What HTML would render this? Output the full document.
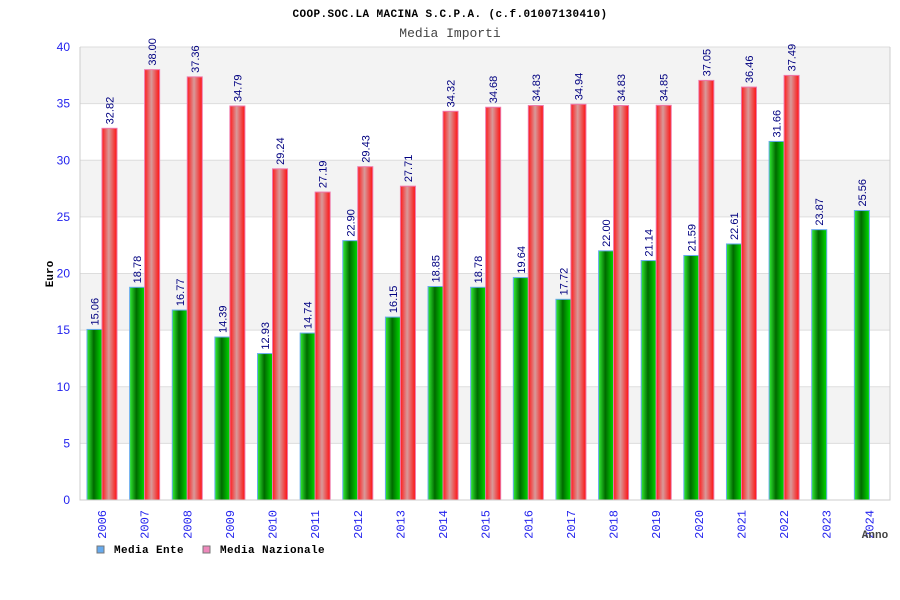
<!DOCTYPE html>
<html><head><meta charset="utf-8"><style>
body{margin:0;background:#fff;}
svg{display:block;}
</style></head><body>
<svg id="chart" width="900" height="600" xmlns="http://www.w3.org/2000/svg">
<defs>
<linearGradient id="gG" x1="0" x2="1" y1="0" y2="0">
<stop offset="0" stop-color="#33ee33"/><stop offset="0.45" stop-color="#006a00"/><stop offset="1" stop-color="#00dd00"/>
</linearGradient>
<linearGradient id="gR" x1="0" x2="1" y1="0" y2="0">
<stop offset="0" stop-color="#ff1a1a"/><stop offset="0.45" stop-color="#d89a9a"/><stop offset="1" stop-color="#ff1010"/>
</linearGradient>
</defs>
<text x="450" y="17" text-anchor="middle" font-family="Liberation Mono, monospace" font-weight="bold" font-size="11" letter-spacing="0.4" fill="#000">COOP.SOC.LA MACINA S.C.P.A. (c.f.01007130410)</text>
<text x="450" y="37" text-anchor="middle" font-family="Liberation Mono, monospace" font-size="13" fill="#444">Media Importi</text>
<g id="grid"></g>
<g id="bars"></g>
<g id="axes"></g>
<text x="0" y="0" transform="translate(53,274) rotate(-90)" text-anchor="middle" font-family="Liberation Mono, monospace" font-weight="bold" font-size="11" fill="#000">Euro</text>
<text x="875" y="538" text-anchor="middle" font-family="Liberation Mono, monospace" font-weight="bold" font-size="11" fill="#444">Anno</text>
<g>
<rect x="97" y="546" width="7" height="7" fill="#66aaee" stroke="#777"/>
<text x="114" y="553" font-family="Liberation Mono, monospace" font-weight="bold" font-size="11" letter-spacing="0.4">Media Ente</text>
<rect x="203" y="546" width="7" height="7" fill="#ee88bb" stroke="#777"/>
<text x="220" y="553" font-family="Liberation Mono, monospace" font-weight="bold" font-size="11" letter-spacing="0.4">Media Nazionale</text>
</g>
</svg>
<script>
const categories=['2006','2007','2008','2009','2010','2011','2012','2013','2014','2015','2016','2017','2018','2019','2020','2021','2022','2023','2024'];
const enteValues=[15.06,18.78,16.77,14.39,12.93,14.74,22.90,16.15,18.85,18.78,19.64,17.72,22.00,21.14,21.59,22.61,31.66,23.87,25.56];
const nazValues=[32.82,38.00,37.36,34.79,29.24,27.19,29.43,27.71,34.32,34.68,34.83,34.94,34.83,34.85,37.05,36.46,37.49,null,null];
const yTicks=[0,5,10,15,20,25,30,35,40];
const NS='http://www.w3.org/2000/svg';
const L=80,R=890,T=47,B=500,YMAX=40;
const y=v=>B-(v/YMAX)*(B-T);
const gw=(R-L)/categories.length;
const x=i=>L+i*gw;
function mk(tag,attrs,parent,text){const e=document.createElementNS(NS,tag);for(const k in attrs)e.setAttribute(k,attrs[k]);if(text!==undefined)e.textContent=text;parent.appendChild(e);return e;}
const grid=document.getElementById('grid'),bars=document.getElementById('bars'),axes=document.getElementById('axes');
for(let k=0;k<yTicks.length-1;k++){
  const r=mk('rect',{x:L,y:y(yTicks[k+1]),width:R-L,height:y(yTicks[k])-y(yTicks[k+1]),fill:(k%2===1)?'#f3f3f3':'#ffffff'},grid);
  
  
}
yTicks.forEach(t=>{
  const l=mk('line',{x1:L,x2:R,y1:y(t),y2:y(t),stroke:'#dddddd','stroke-width':1},grid);
  
  
  const tx=mk('text',{x:L-10,y:y(t)+4,'text-anchor':'end','font-family':'Liberation Sans, sans-serif','font-size':12,fill:'#2222ee'},axes,String(t));
  
  
});
const ax=mk('path',{d:`M${L},${T}V${B}H${R}V${T}`,fill:'none',stroke:'#cccccc'},axes);


function label(cx,v,top){
  const t=mk('text',{transform:`translate(${cx+4},${top-4}) rotate(-90)`,'font-family':'Liberation Sans, sans-serif','font-size':11,fill:'#000080'},bars,v.toFixed(2));
  
  
}
categories.forEach((c,i)=>{
  const gx=x(i)+7;
  const e=enteValues[i];
  const b1=mk('rect',{x:gx,y:y(e),width:15,height:B-y(e),fill:'url(#gG)',stroke:'#66aaee','stroke-width':1},bars);
  
  
  label(gx+7.5,e,y(e));
  const n=nazValues[i];
  if(n!==null){
    const b2=mk('rect',{x:gx+15,y:y(n),width:15,height:B-y(n),fill:'url(#gR)',stroke:'#ee77aa','stroke-width':1},bars);
    
    
    label(gx+22.5,n,y(n));
  }
  const tl=mk('text',{transform:`translate(${gx+19},${B+10}) rotate(-90)`,'text-anchor':'end','font-family':'Liberation Mono, monospace','font-size':12,fill:'#2222ee'},axes,c);
  
  
});
</script>
</body></html>
